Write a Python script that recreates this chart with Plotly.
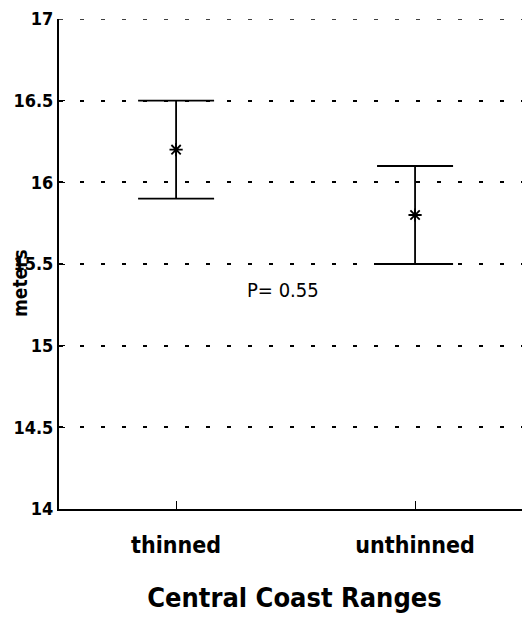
import plotly.graph_objects as go

categories = ["thinned", "unthinned"]
means = [16.2, 15.8]
upper = [16.5, 16.1]
lower = [15.9, 15.5]
y_ticks = [14, 14.5, 15, 15.5, 16, 16.5, 17]
y_tick_labels = ["14", "14.5", "15", "15.5", "16", "16.5", "17"]
p_text = "P= 0.55"

err_plus = [u - m for u, m in zip(upper, means)]
err_minus = [m - l for m, l in zip(means, lower)]

FONT = "DejaVu Sans Condensed, Liberation Sans Narrow, Arial Narrow, Liberation Sans"
GRID_DASH = "4px,17px"

fig = go.Figure()
fig.add_trace(go.Scatter(
    x=[0, 1], y=means, mode="markers",
    marker=dict(symbol="asterisk-open", size=11, color="black",
                line=dict(color="black", width=1.8)),
    error_y=dict(type="data", symmetric=False, array=err_plus, arrayminus=err_minus,
                 color="black", thickness=1.8, width=38),
    showlegend=False, hoverinfo="skip",
))

# top gridline (plotly omits the gridline at the plot edge)
fig.add_shape(type="line", xref="paper", yref="y", x0=0, x1=1,
              y0=max(y_ticks), y1=max(y_ticks),
              line=dict(color="black", width=1.5, dash=GRID_DASH), layer="below")

fig.add_annotation(x=0.448, y=15.34, xref="x", yref="y", text=p_text, showarrow=False,
                   font=dict(family=FONT, size=20, color="black"))
fig.add_annotation(x=-0.083, y=0.461, xref="paper", yref="paper",
                   xanchor="center", yanchor="middle",
                   text="<b>meters</b>", textangle=-90, showarrow=False,
                   borderpad=0,
                   font=dict(family=FONT, size=19, color="black"))

fig.update_layout(
    width=522, height=617,
    margin=dict(l=51, r=0, t=11, b=116),
    paper_bgcolor="white", plot_bgcolor="white",
    font=dict(family=FONT, color="black"),
    xaxis=dict(
        range=[-0.49, 1.481], tickmode="array", tickvals=[0, 1],
        ticktext=["<b>" + c + "</b>" for c in categories],
        tickfont=dict(family=FONT, size=23, color="black"),
        ticks="inside", ticklen=8, tickwidth=1.2, tickcolor="black",
        ticklabelstandoff=14,
        showline=True, linecolor="black", linewidth=2, mirror=False,
        showgrid=False, zeroline=False,
        title=dict(text="<b>Central Coast Ranges</b>", standoff=32,
                   font=dict(family=FONT, size=27, color="black")),
    ),
    yaxis=dict(
        range=[14, 17], tickmode="array", tickvals=y_ticks,
        ticktext=["<b>" + t + "</b>" for t in y_tick_labels],
        tickfont=dict(family=FONT, size=18, color="black"),
        ticks="inside", ticklen=6, tickwidth=1.2, tickcolor="black",
        ticklabelstandoff=0,
        showline=True, linecolor="black", linewidth=2, mirror=False,
        showgrid=True, gridcolor="black", gridwidth=1.5, griddash=GRID_DASH,
        zeroline=False,
    ),
)

fig.write_html("out.html")
